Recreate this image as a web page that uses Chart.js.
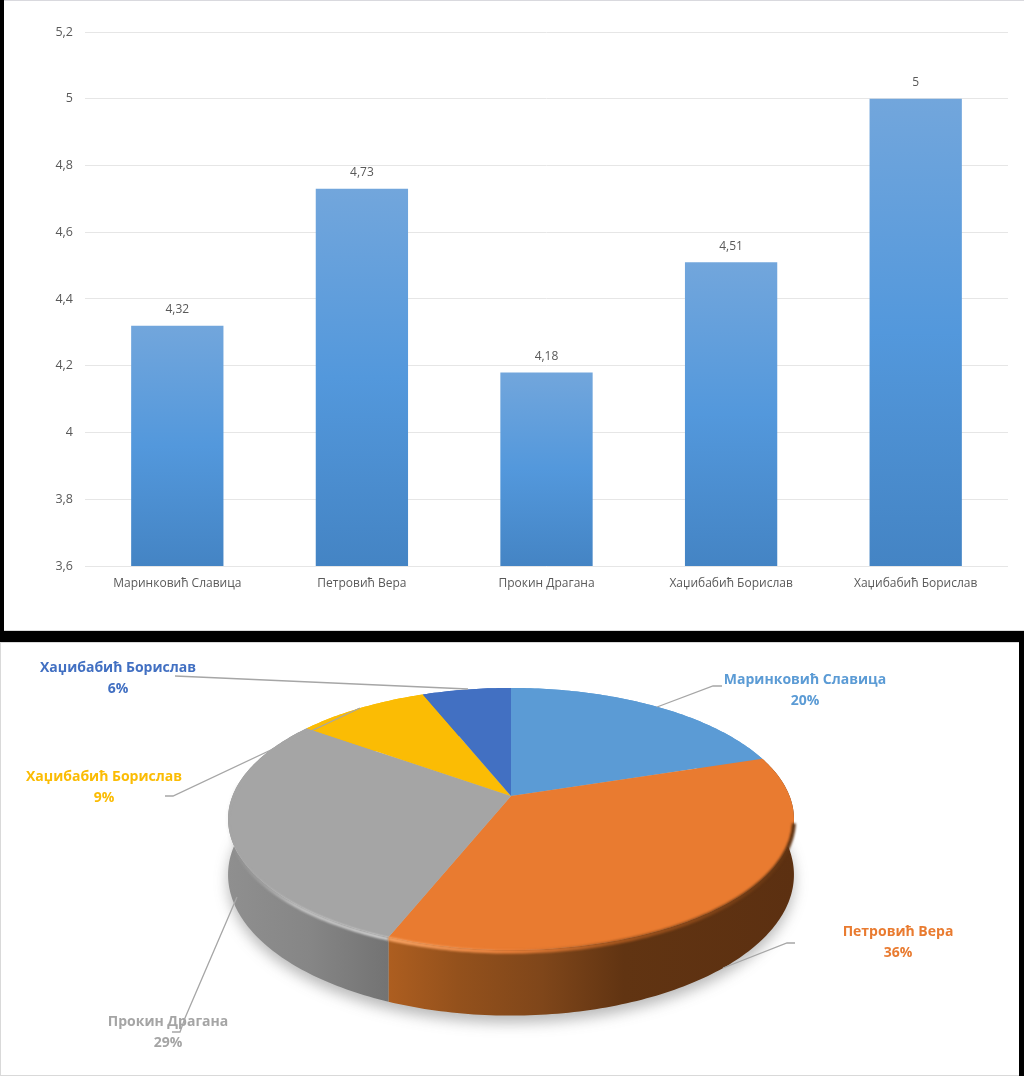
<!DOCTYPE html>
<html>
<head>
<meta charset="utf-8">
<title>Chart</title>
<script src="https://cdn.jsdelivr.net/npm/chart.js@4"></script>
<style>
  html, body { margin: 0; padding: 0; background: #000; }
  body { position: relative; width: 1024px; height: 1076px; overflow: hidden; }
  .panel { position: absolute; background: #fff; box-sizing: border-box; }
  #barPanel { left: 4px; top: 0; width: 1020px; height: 631px; border-top: 1px solid #d9d9de; border-bottom: 1px solid #d9d9d9; }
  #piePanel { left: 0; top: 642px; width: 1019px; height: 434px; border-left: 1px solid #d9d9d9; border-top: 1px solid #d9d9d9; border-bottom: 1px solid #d9d9d9; }
  canvas { position: absolute; left: 0; top: 0; }
  #barPanel canvas { top: -1px; }
  #piePanel canvas { left: -1px; top: -1px; }
</style>
</head>
<body>
<div class="panel" id="barPanel"><canvas id="barChart" width="1020" height="631"></canvas></div>
<div class="panel" id="piePanel"><canvas id="pieChart" width="1019" height="434"></canvas></div>
<script>
// Chart data
const barNames = ["Маринковић Славица", "Петровић Вера", "Прокин Драгана", "Хаџибабић Борислав", "Хаџибабић Борислав"];
const barValues = [4.32, 4.73, 4.18, 4.51, 5];
const yTickLabels = ["3,6", "3,8", "4", "4,2", "4,4", "4,6", "4,8", "5", "5,2"];

const pieNames = ["Маринковић Славица", "Петровић Вера", "Прокин Драгана", "Хаџибабић Борислав", "Хаџибабић Борислав"];
const pieValues = [20, 36, 29, 9, 6];
const pieColors = ["#5b9bd5", "#e97b30", "#a5a5a5", "#fbbc04", "#4270c2"];

const FONT = '"Open Sans", "Noto Sans", sans-serif';

/* Bar chart */

// each bar gets its own top to bottom gradient
function barGradient(c) {
  const yScale = c.chart.scales.y;
  if (c.type !== "data" || !yScale) return "#5599da";
  const top = yScale.getPixelForValue(barValues[c.dataIndex]);
  if (!Number.isFinite(top) || !Number.isFinite(yScale.bottom)) return "#5599da"; // scale not laid out yet
  const g = c.chart.ctx.createLinearGradient(0, top, 0, yScale.bottom);
  g.addColorStop(0, "#72a6dc");
  g.addColorStop(0.5, "#5398dc");
  g.addColorStop(1, "#4484c4");
  return g;
}

// value labels above the bars
const barLabels = {
  id: "barLabels",
  afterDatasetsDraw(chart) {
    const ctx = chart.ctx;
    ctx.save();
    ctx.font = "12px " + FONT;
    ctx.fillStyle = "#595959";
    ctx.textAlign = "center";
    ctx.textBaseline = "middle";
    chart.getDatasetMeta(0).data.forEach((bar, i) => {
      ctx.fillText(String(barValues[i]).replace(".", ","), bar.x, bar.y - 16);
    });
    ctx.restore();
  }
};

new Chart(document.getElementById("barChart"), {
  type: "bar",
  data: {
    labels: barNames,
    datasets: [{
      data: barValues,
      backgroundColor: barGradient,
      categoryPercentage: 1,
      barPercentage: 0.5
    }]
  },
  options: {
    responsive: false,
    animation: false,
    layout: { padding: { top: 32, right: 16, left: 0, bottom: 0 } },
    plugins: { legend: { display: false }, tooltip: { enabled: false } },
    scales: {
      x: {
        border: { display: false },
        grid: { display: false, drawTicks: false },
        ticks: { color: "#595959", font: { family: FONT, size: 12 }, padding: 10, maxRotation: 0, autoSkip: false },
        afterFit: s => { s.height = 65; }
      },
      y: {
        min: 3.6,
        max: 5.2,
        border: { display: false },
        grid: { color: "#e6e6e6", drawTicks: false },
        ticks: {
          stepSize: 0.2,
          color: "#595959",
          font: { family: FONT, size: 12.5 },
          padding: 12,
          callback: (v, i) => yTickLabels[i]
        },
        afterFit: s => { s.width = 81; }
      }
    }
  },
  plugins: [barLabels]
});

/* Pie chart, the library lays out the slices and the plugin projects them in perspective */

const TILT = 0.1756;      // perspective strength
const STRETCH_X = 1.857;  // horizontal size against the arc radius
const STRETCH_Y = 0.847;  // vertical size against the arc radius
const WALL = 0.36;        // wall height against the arc radius

const wallStops = [
  [[0, "#5b9bd5"], [1, "#5b9bd5"]],
  [[0, "#ad5e20"], [0.17, "#94511c"], [0.38, "#7f461a"], [0.58, "#613412"], [1, "#5c3011"]],
  [[0, "#8f8f8f"], [0.5, "#868686"], [1, "#737373"]],
  [[0, "#fbbc04"], [1, "#fbbc04"]],
  [[0, "#4270c2"], [1, "#4270c2"]]
];

// callouts in canvas coordinates: text centre and leader line
const callouts = [
  { x: 805, y: 38, line: [[657, 65], [713, 44], [722, 44]] },
  { x: 898, y: 290, line: [[723, 326], [787, 301], [795, 301]] },
  { x: 168, y: 380, line: [[237, 255], [185, 376], [180, 390], [172, 390]] },
  { x: 104, y: 135, line: [[360, 66], [173, 154], [165, 154]] },
  { x: 118, y: 26, line: [[468, 47], [175, 34]] }
];

function project(arc, a, drop) {
  const w = 1 - TILT * Math.sin(a);
  const r = arc.outerRadius;
  return {
    x: arc.x + r * STRETCH_X * Math.cos(a) / w,
    y: arc.y + r * STRETCH_Y * Math.sin(a) / w + (drop ? drop * r / w : 0)
  };
}

function edgePoints(arc, from, to, drop) {
  const pts = [];
  const n = Math.max(2, Math.ceil(Math.abs(to - from) * 60));
  for (let i = 0; i <= n; i++) pts.push(project(arc, from + (to - from) * i / n, drop));
  return pts;
}

function tracePoints(ctx, pts, start) {
  pts.forEach((p, i) => {
    if (i === 0 && start) ctx.moveTo(p.x, p.y);
    else ctx.lineTo(p.x, p.y);
  });
}

const pie3d = {
  id: "pie3d",
  beforeDatasetsDraw(chart) {
    const ctx = chart.ctx;
    const arcs = chart.getDatasetMeta(0).data;
    const whole = arcs[0];
    const full = Math.PI * 2;

    // soft shadow under the pie
    ctx.save();
    ctx.filter = "blur(7px)";
    ctx.fillStyle = "rgba(60,60,60,0.36)";
    ctx.beginPath();
    tracePoints(ctx, edgePoints(whole, 0, full, WALL + 0.04), true);
    ctx.closePath();
    ctx.fill();
    ctx.restore();

    // side walls, the back ones get hidden by the top face
    arcs.forEach((arc, i) => {
      const top = edgePoints(arc, arc.startAngle, arc.endAngle, 0);
      const bottom = edgePoints(arc, arc.endAngle, arc.startAngle, WALL);
      const xs = top.map(p => p.x);
      const g = ctx.createLinearGradient(Math.min(...xs), 0, Math.max(...xs), 0);
      wallStops[i].forEach(s => g.addColorStop(s[0], s[1]));
      ctx.fillStyle = g;
      ctx.beginPath();
      tracePoints(ctx, top, true);
      tracePoints(ctx, bottom, false);
      ctx.closePath();
      ctx.fill();
    });

    // top face
    arcs.forEach((arc, i) => {
      ctx.fillStyle = pieColors[i];
      ctx.beginPath();
      ctx.moveTo(arc.x, arc.y);
      tracePoints(ctx, edgePoints(arc, arc.startAngle, arc.endAngle, 0), false);
      ctx.closePath();
      ctx.fill();
    });

    // rounded lip where the face meets the wall
    const gray = arcs[2], orange = arcs[1];
    ctx.save();
    ctx.filter = "blur(1.2px)";
    const grayLip = ctx.createLinearGradient(390, 0, 232, 0);
    grayLip.addColorStop(0, "rgba(214,214,214,1)");
    grayLip.addColorStop(0.6, "rgba(205,205,205,0.9)");
    grayLip.addColorStop(1, "rgba(170,170,170,0.1)");
    ctx.lineWidth = 3;
    ctx.strokeStyle = grayLip;
    ctx.beginPath();
    tracePoints(ctx, edgePoints(gray, gray.startAngle, gray.startAngle + 1.3, 0.01), true);
    ctx.stroke();
    const lip = ctx.createLinearGradient(390, 0, 794, 0);
    lip.addColorStop(0, "#f6a263");
    lip.addColorStop(0.3, "#e9803a");
    lip.addColorStop(0.55, "#a9581f");
    lip.addColorStop(1, "#5f3312");
    ctx.lineWidth = 4;
    ctx.strokeStyle = lip;
    ctx.beginPath();
    tracePoints(ctx, edgePoints(orange, 0.2, orange.endAngle, 0.008), true);
    ctx.stroke();
    ctx.restore();

    // callouts
    ctx.save();
    ctx.strokeStyle = "#a6a6a6";
    ctx.lineWidth = 1.3;
    callouts.forEach(c => {
      ctx.beginPath();
      c.line.forEach((p, i) => i ? ctx.lineTo(p[0], p[1]) : ctx.moveTo(p[0], p[1]));
      ctx.stroke();
    });
    ctx.font = "bold 14px " + FONT;
    ctx.textAlign = "center";
    ctx.textBaseline = "middle";
    callouts.forEach((c, i) => {
      ctx.fillStyle = pieColors[i];
      ctx.fillText(pieNames[i], c.x, c.y);
      ctx.fillText(pieValues[i] + "%", c.x, c.y + 21);
    });
    ctx.restore();

    return false; // default flat arcs are replaced by the projected ones
  }
};

new Chart(document.getElementById("pieChart"), {
  type: "pie",
  data: {
    labels: pieNames,
    datasets: [{ data: pieValues, backgroundColor: pieColors, borderWidth: 0 }]
  },
  options: {
    responsive: false,
    animation: false,
    layout: { padding: { left: 361, right: 358, top: 4, bottom: 130 } },
    plugins: { legend: { display: false }, tooltip: { enabled: false } }
  },
  plugins: [pie3d]
});
</script>
</body>
</html>
